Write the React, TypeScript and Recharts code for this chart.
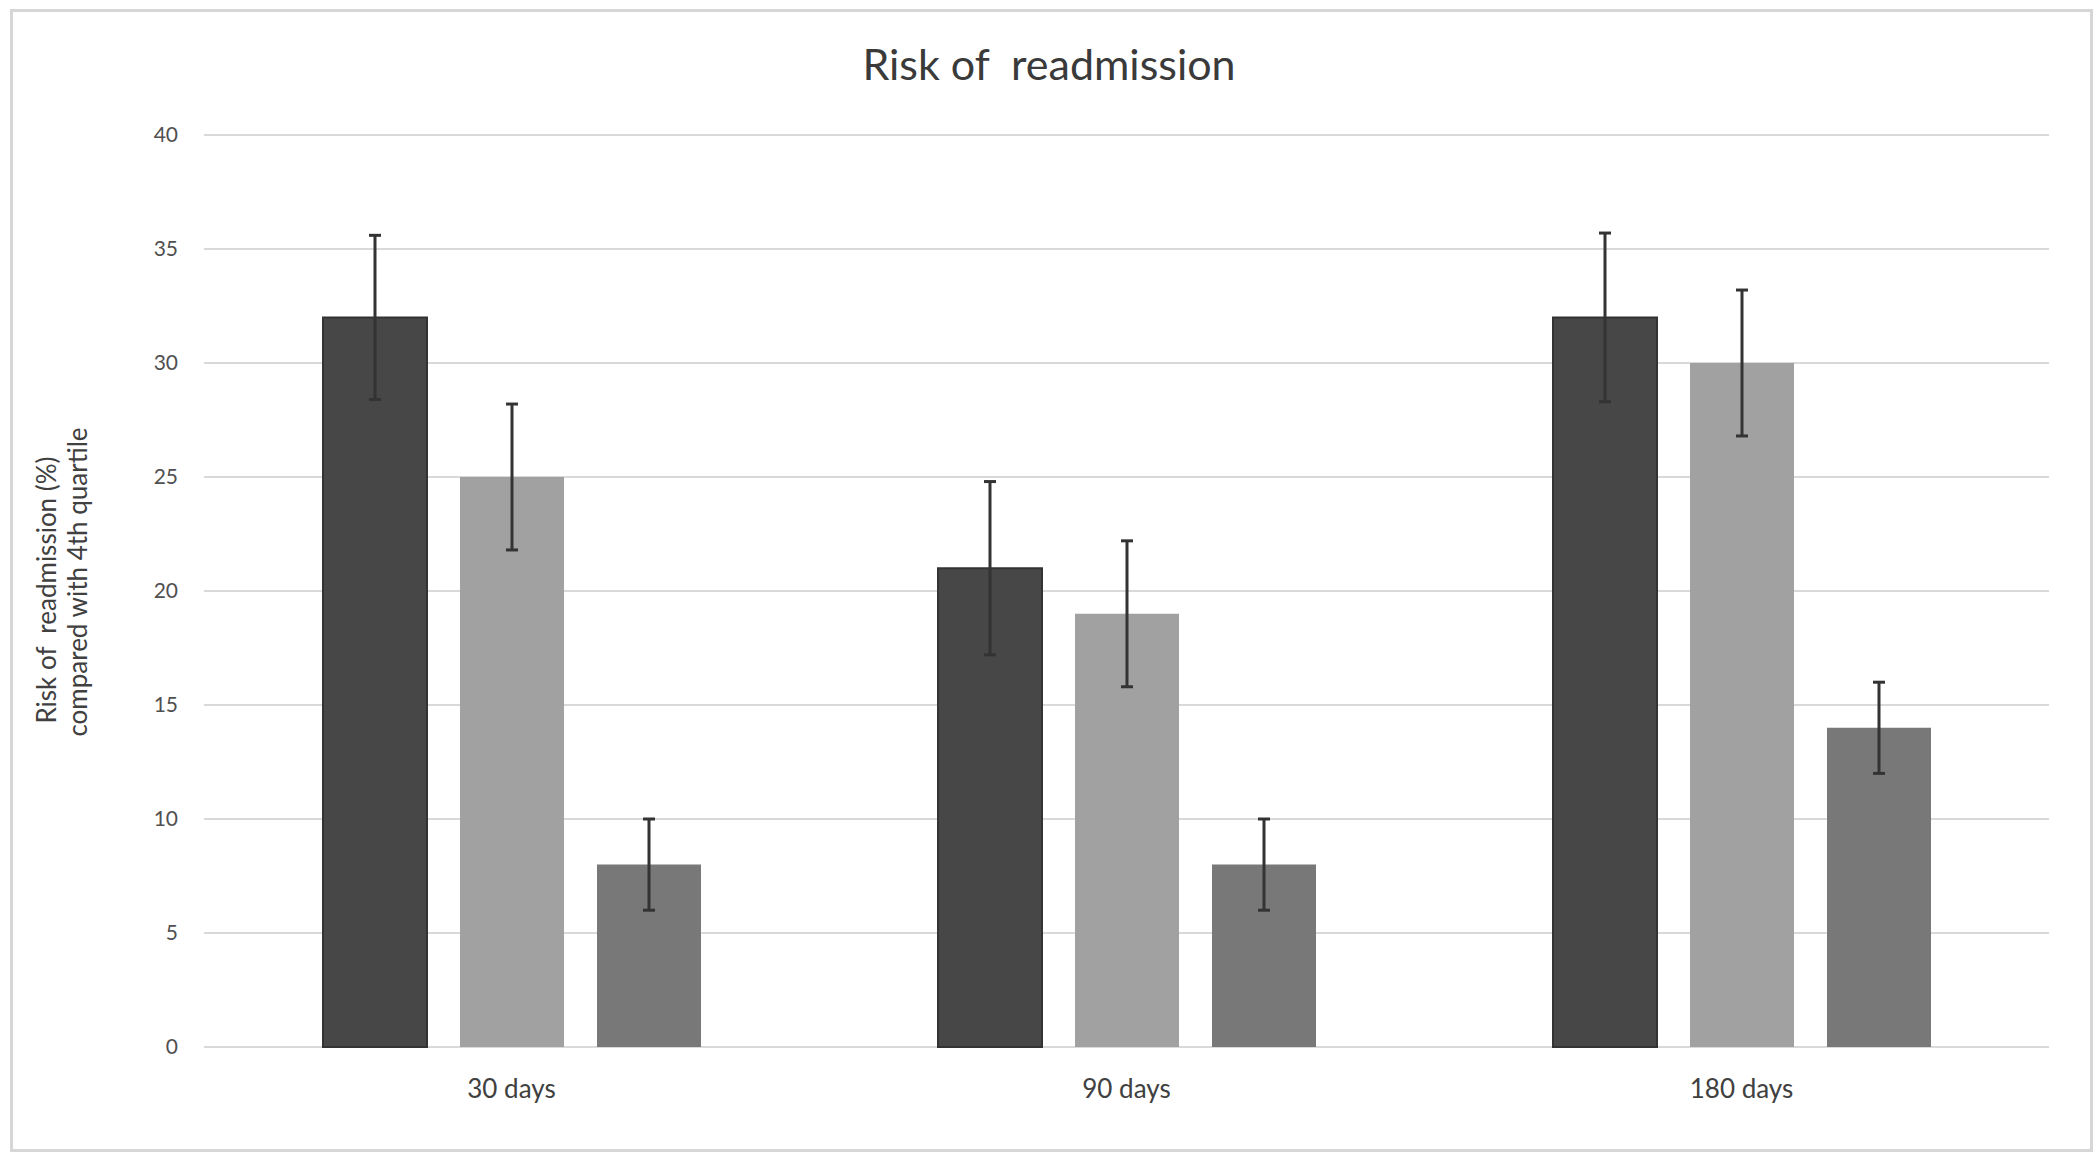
import React from 'react';
import { BarChart, Bar, XAxis, YAxis, CartesianGrid, ErrorBar } from 'recharts';

const categories = ['30 days', '90 days', '180 days'];
const q1Values = [32, 21, 32];
const q1Errors = [3.6, 3.8, 3.7];
const q2Values = [25, 19, 30];
const q2Errors = [3.2, 3.2, 3.2];
const q3Values = [8, 8, 14];
const q3Errors = [2, 2, 2];
const yTicks = [0, 5, 10, 15, 20, 25, 30, 35, 40];

const titleText = 'Risk of  readmission';
const yLabelLine1 = 'Risk of  readmission (%)';
const yLabelLine2 = 'compared with 4th quartile';

const data = categories.map((category, i) => ({
  category,
  q1: q1Values[i],
  q1e: q1Errors[i],
  q2: q2Values[i],
  q2e: q2Errors[i],
  q3: q3Values[i],
  q3e: q3Errors[i],
}));

const FONT = 'Lato, "Open Sans", sans-serif';

export default function App() {
  return (
    <div style={{ position: 'absolute', left: 0, top: 0, width: 2100, height: 1162, background: '#ffffff', fontFamily: FONT }}>
      <div
        style={{
          position: 'absolute',
          left: 10,
          top: 9,
          width: 2083,
          height: 1143,
          border: '3px solid #d6d6d6',
          boxSizing: 'border-box',
        }}
      />
      <div style={{ position: 'absolute', left: 0, top: 0 }}>
        <BarChart
          width={2100}
          height={1162}
          data={data}
          margin={{ top: 135, right: 51, bottom: 55, left: 14 }}
          barSize={104}
          barGap={33}
        >
          <CartesianGrid vertical={false} stroke="#d9d9d9" strokeWidth={2} />
          <XAxis
            dataKey="category"
            height={60}
            axisLine={false}
            tickLine={false}
            tickSize={0}
            tickMargin={33}
            interval={0}
            tick={{ fill: '#404040', fontSize: 26, fontFamily: FONT }}
          />
          <YAxis
            width={190}
            domain={[0, 40]}
            ticks={yTicks}
            axisLine={false}
            tickLine={false}
            tickSize={0}
            tickMargin={26}
            tick={{ fill: '#505050', fontSize: 21, fontFamily: FONT }}
          />
          <Bar dataKey="q1" fill="#474747" stroke="#333333" strokeWidth={2} isAnimationActive={false}>
            <ErrorBar dataKey="q1e" width={6} stroke="#333333" strokeWidth={3} />
          </Bar>
          <Bar dataKey="q2" fill="#a1a1a1" isAnimationActive={false}>
            <ErrorBar dataKey="q2e" width={6} stroke="#333333" strokeWidth={3} />
          </Bar>
          <Bar dataKey="q3" fill="#787878" isAnimationActive={false}>
            <ErrorBar dataKey="q3e" width={6} stroke="#333333" strokeWidth={3} />
          </Bar>
        </BarChart>
      </div>
      <svg
        width={2100}
        height={1162}
        style={{ position: 'absolute', left: 0, top: 0, pointerEvents: 'none' }}
      >
        <text
          x={1049}
          y={80}
          textAnchor="middle"
          fontSize={43}
          fill="#3a3a3a"
          fontFamily={FONT}
          style={{ whiteSpace: 'pre' }}
        >
          {titleText}
        </text>
        <text
          transform="translate(56, 590) rotate(-90)"
          textAnchor="middle"
          fontSize={26}
          fill="#404040"
          fontFamily={FONT}
          style={{ whiteSpace: 'pre' }}
        >
          {yLabelLine1}
        </text>
        <text
          transform="translate(87, 582) rotate(-90)"
          textAnchor="middle"
          fontSize={26}
          fill="#404040"
          fontFamily={FONT}
        >
          {yLabelLine2}
        </text>
      </svg>
    </div>
  );
}
